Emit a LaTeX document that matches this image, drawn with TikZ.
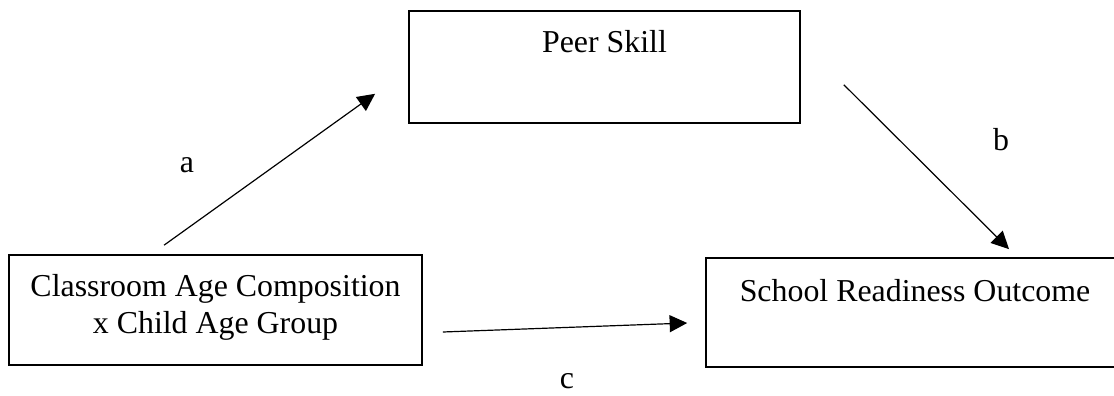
\documentclass[tikz,border=0pt]{standalone}
\usepackage{fontspec}
\setmainfont{Liberation Serif}
\usetikzlibrary{arrows.meta}

\begin{document}
\begin{tikzpicture}[>={Triangle[length=6.6pt,width=6.4pt]},
  varbox/.style={rectangle,draw = black,line width=0.65pt,inner sep=0pt,align=center,font=\fontsize{12}{13.6}\selectfont},
  link/.style={->,line width=0.45pt},
  lbl/.style={font=\fontsize{12}{13.6}\selectfont}]
\clip (0,0) rectangle (14.741,5.227);
\node[varbox,minimum width=5.174cm,text height=15.4pt,text depth=26.7pt](peer) at (7.999,4.34){Peer Skill};
\node[varbox,minimum width=5.465cm,text height=29.4pt,text depth=12pt](cls) at (2.852,1.125){Classroom Age Composition\\x Child Age Group};
\node[varbox,minimum width=5.531cm,text height=16.2pt,text depth=24.8pt](out) at (12.108,1.092){School Readiness Outcome};
\node[lbl](la) at (2.475,3.037){a};
\node[lbl](lb) at (13.246,3.374){b};
\node[lbl](lc) at (7.503,0.179){c};
\draw[link]([xshift=-0.681cm,yshift=0.119cm]cls.north)--([xshift=-0.437cm,yshift=0.397cm]peer.south west);
\draw[link]([xshift=0.569cm,yshift=0.516cm]peer.south east)--([xshift=1.244cm,yshift=0.106cm]out.north);
\draw[link]([xshift=0.265cm,yshift=-0.291cm]cls.east)--([xshift=-0.238cm,yshift=-0.139cm]out.west);
\end{tikzpicture}
\end{document}
